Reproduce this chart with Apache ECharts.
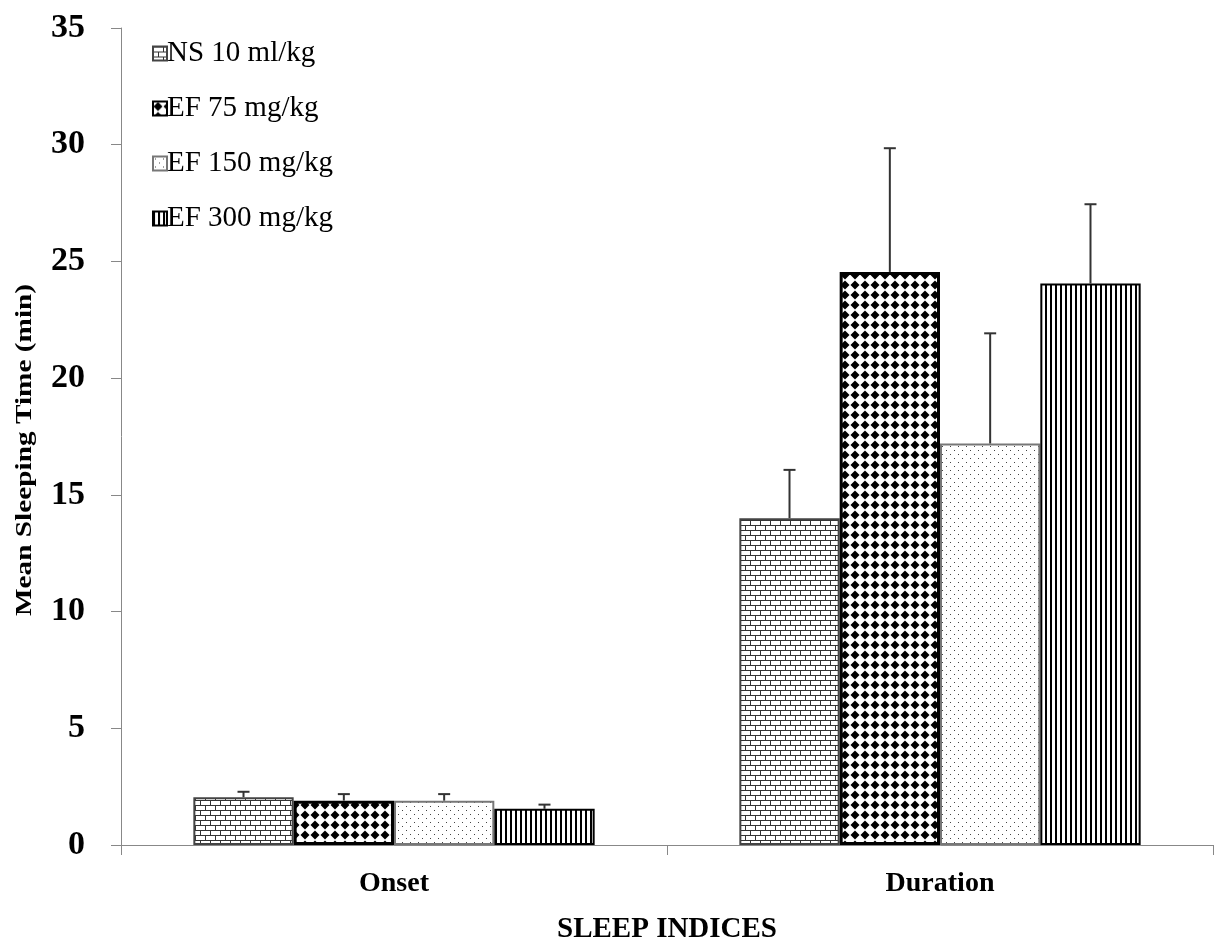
<!DOCTYPE html>
<html>
<head>
<meta charset="utf-8">
<script src="https://cdn.jsdelivr.net/npm/echarts@6/dist/echarts.min.js"></script>
<style>
  html, body { margin: 0; padding: 0; background: #fff; }
  #main { width: 1215px; height: 940px; }
</style>
</head>
<body>
<div id="main"></div>
<script>
var categories = ["Onset", "Duration"];
var seriesNames = ["NS 10 ml/kg", "EF 75 mg/kg", "EF 150 mg/kg", "EF 300 mg/kg"];
var nsValues = [2.05, 14.0];
var ef75Values = [1.9, 24.55];
var ef150Values = [1.9, 17.2];
var ef300Values = [1.55, 24.05];
var nsErrors = [0.23, 2.07];
var ef75Errors = [0.28, 5.3];
var ef150Errors = [0.28, 4.72];
var ef300Errors = [0.18, 3.4];
var yTicks = [0, 5, 10, 15, 20, 25, 30, 35];

var allValues = [nsValues, ef75Values, ef150Values, ef300Values];
var allErrors = [nsErrors, ef75Errors, ef150Errors, ef300Errors];

// pattern tiles
function tile(w, h, draw) {
  var c = document.createElement("canvas");
  c.width = w; c.height = h;
  var ctx = c.getContext("2d");
  ctx.fillStyle = "#fff";
  ctx.fillRect(0, 0, w, h);
  draw(ctx);
  return c;
}
var brick = tile(10, 10, function (ctx) {
  ctx.fillStyle = "#333";
  ctx.fillRect(0, 0, 10, 1);
  ctx.fillRect(0, 5, 10, 1);
  ctx.fillRect(0, 0, 1, 5);
  ctx.fillRect(5, 5, 1, 5);
});
var diamond = tile(10, 10, function (ctx) {
  ctx.fillStyle = "#000";
  ctx.beginPath();
  ctx.moveTo(5, 0.5); ctx.lineTo(9.5, 5); ctx.lineTo(5, 9.5); ctx.lineTo(0.5, 5);
  ctx.closePath();
  ctx.fill();
});
var dots = tile(8, 8, function (ctx) {
  ctx.fillStyle = "#444";
  ctx.fillRect(2, 2, 1, 1);
  ctx.fillRect(6, 6, 1, 1);
});
var stripes = tile(5, 5, function (ctx) {
  ctx.fillStyle = "#000";
  ctx.fillRect(0, 0, 2, 5);
});
var patterns = [brick, diamond, dots, stripes];
var borders = ["#444", "#000", "#777", "#000"];
var borderWidths = [2, 3, 2, 2];

var gapRatio = 0.265;

var chart = echarts.init(document.getElementById("main"));

var series = [];
seriesNames.forEach(function (name, i) {
  series.push({
    name: name,
    type: "bar",
    data: allValues[i],
    barGap: "0%",
    barCategoryGap: "26.5%",
    itemStyle: {
      color: { image: patterns[i], repeat: "repeat" },
      borderColor: borders[i],
      borderWidth: borderWidths[i]
    },
    emphasis: { disabled: true }
  });
});
seriesNames.forEach(function (name, i) {
  series.push({
    type: "custom",
    name: name + " err",
    data: allValues[i].map(function (v, k) { return [k, v, v + allErrors[i][k]]; }),
    renderItem: function (params, api) {
      var k = api.value(0);
      var base = api.coord([k, api.value(1)]);
      var top = api.coord([k, api.value(2)]);
      var band = api.size([1, 0])[0];
      var bw = band * (1 - gapRatio) / 4;
      var x = base[0] - 2 * bw + bw * (i + 0.5);
      var cap = 6;
      return {
        type: "group",
        children: [
          { type: "line", shape: { x1: x, y1: base[1], x2: x, y2: top[1] }, style: { stroke: "#333", lineWidth: 2 } },
          { type: "line", shape: { x1: x - cap, y1: top[1], x2: x + cap, y2: top[1] }, style: { stroke: "#333", lineWidth: 2 } }
        ]
      };
    },
    z: 3,
    silent: true
  });
});

var option = {
  animation: false,
  backgroundColor: "#fff",
  grid: { left: 121, right: 2, top: 28, bottom: 95, containLabel: false, outerBoundsMode: "none" },
  legend: {
    data: seriesNames,
    orient: "vertical",
    left: 147,
    top: 34,
    itemWidth: 14,
    itemHeight: 14,
    itemGap: 26,
    icon: "rect",
    selectedMode: false,
    textStyle: { fontFamily: "Liberation Serif", fontSize: 29, color: "#000", padding: [0, 0, 0, -5] }
  },
  graphic: [{
    type: "text",
    x: 25,
    y: 450,
    rotation: Math.PI / 2,
    scaleX: 1.22,
    style: {
      text: "Mean Sleeping Time (min)",
      fontFamily: "Liberation Serif",
      fontWeight: "bold",
      fontSize: 24,
      fill: "#000",
      align: "center",
      verticalAlign: "middle"
    }
  }],
  xAxis: {
    type: "category",
    data: categories,
    name: "SLEEP INDICES",
    nameLocation: "middle",
    nameGap: 70,
    nameTextStyle: { fontFamily: "Liberation Serif", fontWeight: "bold", fontSize: 29, color: "#000" },
    axisLine: { lineStyle: { color: "#888", width: 1 } },
    axisTick: { show: true, length: 10, lineStyle: { color: "#888" } },
    axisLabel: { fontFamily: "Liberation Serif", fontWeight: "bold", fontSize: 28, color: "#000", margin: 25 }
  },
  yAxis: {
    type: "value",
    min: 0,
    max: 35,
    interval: 5,
    axisLine: { show: true, lineStyle: { color: "#888", width: 1 } },
    axisTick: { show: true, inside: false, length: 10, lineStyle: { color: "#888" } },
    splitLine: { show: false },
    axisLabel: {
      fontFamily: "Liberation Serif", fontWeight: "bold", fontSize: 34, color: "#000", margin: 36,
      formatter: function (v) { return yTicks.indexOf(v) >= 0 ? String(v) : ""; }
    }
  },
  series: series
};

chart.setOption(option);
</script>
</body>
</html>
